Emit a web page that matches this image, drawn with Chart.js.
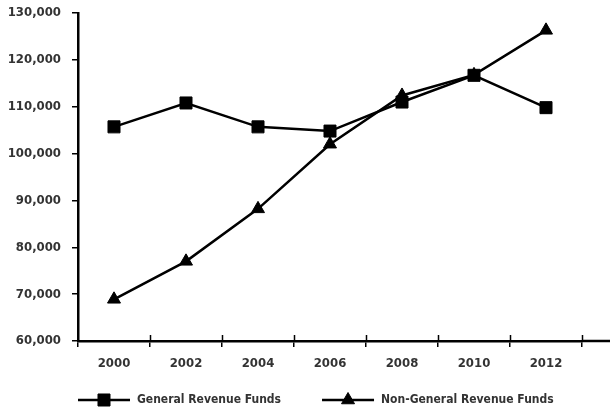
<!DOCTYPE html>
<html>
<head>
<meta charset="utf-8">
<script src="https://cdn.jsdelivr.net/npm/chart.js@4/dist/chart.umd.min.js"></script>
<style>
  html, body { margin: 0; padding: 0; background: #fff; }
  #wrap { width: 610px; height: 410px; position: relative; }
</style>
</head>
<body>
<div id="wrap"><canvas id="chart"></canvas></div>
<script>
// Fiscal years and fund totals
const years = ['2000', '2002', '2004', '2006', '2008', '2010', '2012'];
const generalRevenue = [105700, 110800, 105700, 104800, 111000, 116700, 109800];
const nonGeneralRevenue = [68900, 77000, 88200, 102000, 112400, 116800, 126300];
const seriesNames = ['General Revenue Funds', 'Non-General Revenue Funds'];
const yTicks = [60000, 70000, 80000, 90000, 100000, 110000, 120000, 130000];

const FONT = '"DejaVu Sans Condensed", "Liberation Sans Narrow", sans-serif';
const TEXT = '#333333';

// Tick marks that cross the category axis, extension of the baseline, and the legend
const axisExtras = {
  id: 'axisExtras',
  afterDraw(chart) {
    const { ctx, chartArea, scales } = chart;
    const x = scales.x;
    const step = x.getPixelForValue(1) - x.getPixelForValue(0);
    ctx.save();
    ctx.strokeStyle = '#000';
    ctx.lineWidth = 1.5;
    ctx.beginPath();
    for (let i = 1; i <= years.length; i++) {
      const px = Math.round(x.getPixelForValue(i) - step / 2) + 0.5;
      ctx.moveTo(px, chartArea.bottom - 6);
      ctx.lineTo(px, chartArea.bottom);
    }
    ctx.stroke();
    // baseline continues to the edge
    ctx.lineWidth = 2.5;
    ctx.beginPath();
    ctx.moveTo(chartArea.right, chartArea.bottom);
    ctx.lineTo(chart.width, chartArea.bottom);
    ctx.stroke();

    // legend row
    const ly = 400;
    let lx = chartArea.left;
    ctx.font = 'bold 12px ' + FONT;
    ctx.textBaseline = 'middle';
    chart.data.datasets.forEach((ds) => {
      const sampleW = 52;
      ctx.strokeStyle = ds.borderColor;
      ctx.lineWidth = ds.borderWidth;
      ctx.beginPath();
      ctx.moveTo(lx, ly);
      ctx.lineTo(lx + sampleW, ly);
      ctx.stroke();
      ctx.fillStyle = ds.pointBackgroundColor;
      ctx.strokeStyle = ds.pointBorderColor;
      ctx.lineWidth = ds.pointBorderWidth;
      Chart.helpers.drawPoint(ctx, {
        pointStyle: ds.pointStyle,
        radius: ds.pointRadius,
        borderWidth: ds.pointBorderWidth,
        rotation: 0
      }, lx + sampleW / 2, ly);
      ctx.fillStyle = TEXT;
      ctx.textAlign = 'left';
      ctx.fillText(ds.label, lx + sampleW + 7, ly);
      lx += sampleW + 7 + ctx.measureText(ds.label).width + 41;
    });
    ctx.restore();
  }
};

const marker = (style, r) => ({
  borderColor: '#000',
  backgroundColor: '#000',
  borderWidth: 2.5,
  pointStyle: style,
  pointRadius: r,
  pointHoverRadius: r,
  pointBorderWidth: 1,
  pointBackgroundColor: '#000',
  pointBorderColor: '#000',
  tension: 0,
  fill: false
});

new Chart(document.getElementById('chart'), {
  type: 'line',
  data: {
    labels: years,
    datasets: [
      Object.assign({ label: seriesNames[0], data: generalRevenue }, marker('rect', 8.5)),
      Object.assign({ label: seriesNames[1], data: nonGeneralRevenue }, marker('triangle', 7.5))
    ]
  },
  options: {
    responsive: true,
    maintainAspectRatio: false,
    animation: false,
    events: [],
    layout: { padding: { top: 13, right: 28, left: 0, bottom: 0 } },
    plugins: {
      legend: { display: false },
      tooltip: { enabled: false }
    },
    scales: {
      x: {
        type: 'category',
        offset: true,
        afterFit(s) { s.height = 69; },
        border: { display: true, color: '#000', width: 2.5 },
        grid: {
          display: true,
          offset: true,
          drawOnChartArea: false,
          drawTicks: true,
          tickLength: 6,
          color: '#000',
          lineWidth: 1.5
        },
        ticks: {
          color: TEXT,
          padding: 9,
          font: { family: FONT, size: 13, weight: 'bold' },
          maxRotation: 0
        }
      },
      y: {
        min: yTicks[0],
        max: yTicks[yTicks.length - 1],
        afterFit(s) { s.width = 78; },
        afterBuildTicks(s) { s.ticks = yTicks.map(v => ({ value: v })); },
        border: { display: true, color: '#000', width: 2.5 },
        grid: {
          display: true,
          drawOnChartArea: false,
          drawTicks: true,
          tickLength: 6,
          color: '#000',
          lineWidth: 1.5
        },
        ticks: {
          color: TEXT,
          padding: 11,
          font: { family: FONT, size: 13, weight: 'bold', lineHeight: 0.3 },
          callback: v => v.toLocaleString('en-US')
        }
      }
    }
  },
  plugins: [axisExtras]
});
</script>
</body>
</html>
